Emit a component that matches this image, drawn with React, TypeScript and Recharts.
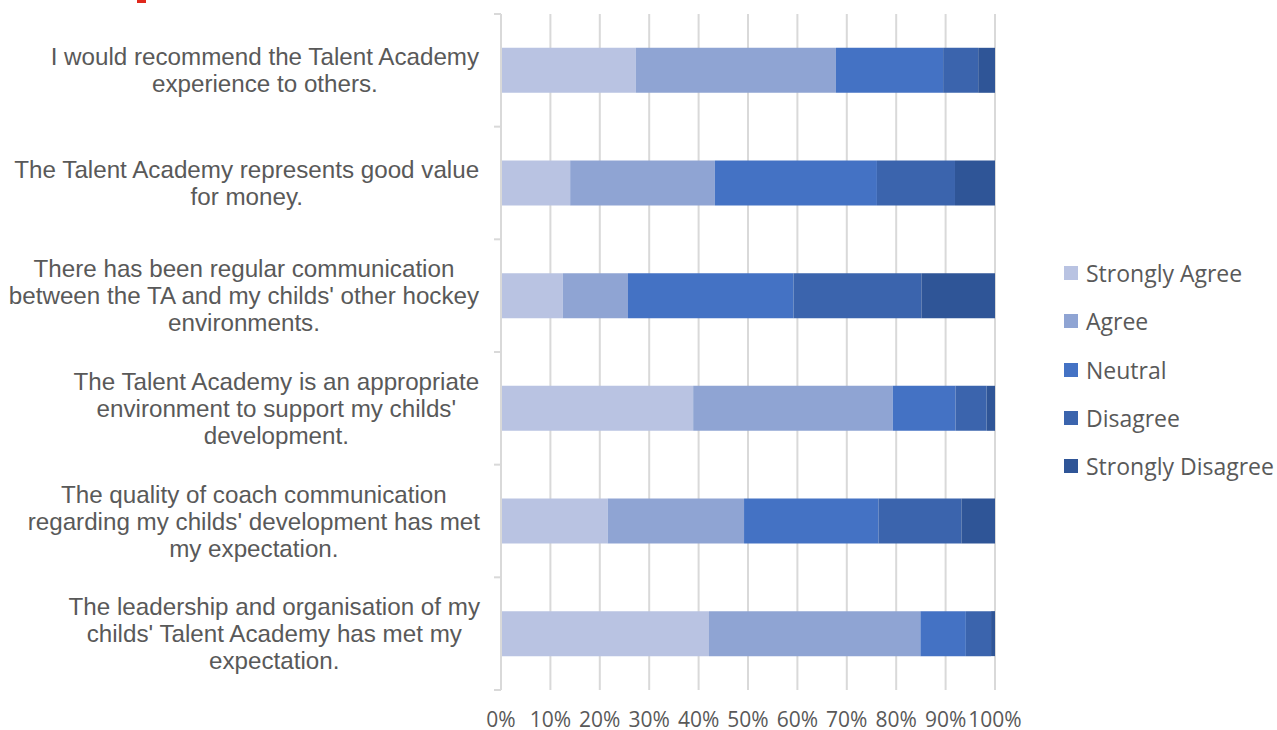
import { BarChart, Bar, XAxis, YAxis, CartesianGrid } from 'recharts';

// survey statements, already split the way the labels wrap
const categoryLines: string[][] = [
    ['I would recommend the Talent Academy', 'experience to others.'],
    ['The Talent Academy represents good value', 'for money.'],
    ['There has been regular communication', "between the TA and my childs' other hockey", 'environments.'],
    ['The Talent Academy is an appropriate', "environment to support my childs'", 'development.'],
    ['The quality of coach communication', "regarding my childs' development has met", 'my expectation.'],
    ['The leadership and organisation of my', "childs' Talent Academy has met my", 'expectation.'],
];
const categories = categoryLines.map((lines) => lines.join(' '));

// share of answers (%) per statement
const stronglyAgree = [27.3, 14.0, 12.5, 38.9, 21.6, 42.1];
const agree = [40.5, 29.3, 13.2, 40.4, 27.6, 42.8];
const neutral = [21.7, 32.8, 33.5, 12.7, 27.2, 9.2];
const disagree = [7.1, 15.8, 25.9, 6.3, 16.8, 5.1];
const stronglyDisagree = [3.4, 8.1, 14.9, 1.7, 6.8, 0.8];

const xTicks = [0, 0.1, 0.2, 0.3, 0.4, 0.5, 0.6, 0.7, 0.8, 0.9, 1];

const series = [
    { key: 'sa', label: 'Strongly Agree', color: '#B9C3E2', values: stronglyAgree },
    { key: 'a', label: 'Agree', color: '#8FA4D3', values: agree },
    { key: 'n', label: 'Neutral', color: '#4472C4', values: neutral },
    { key: 'd', label: 'Disagree', color: '#3B64AD', values: disagree },
    { key: 'sd', label: 'Strongly Disagree', color: '#2F5597', values: stronglyDisagree },
];

const data = categories.map((name, i) => {
    const row: { [key: string]: string | number } = { name };
    series.forEach((s) => { row[s.key] = s.values[i]; });
    return row;
});

const W = 1277;
const H = 730;
const PLOT_LEFT = 501;
const PLOT_RIGHT = 995;
const PLOT_TOP = 14;
const PLOT_BOTTOM = 690;
const LABEL_RIGHT = 480;
const LABEL_FONT = 24.2;
const LINE_H = 27;
const GRID = '#d9d9d9';
const TEXT = '#595959';

let ctx: CanvasRenderingContext2D | null = null;
function measure(text: string) {
    if (!ctx) {
        ctx = document.createElement('canvas').getContext('2d');
        if (ctx) ctx.font = `${LABEL_FONT}px "Liberation Sans", Arial, sans-serif`;
    }
    return ctx ? ctx.measureText(text).width : text.length * 11;
}

const band = (PLOT_BOTTOM - PLOT_TOP) / categories.length;

const CategoryTick = (props: any) => {
    const { y, payload } = props;
    const idx = categories.indexOf(payload.value);
    const lines = categoryLines[idx] || [String(payload.value)];
    const maxW = Math.max(...lines.map(measure));
    const cx = LABEL_RIGHT - maxW / 2;
    const first = y - ((lines.length - 1) * LINE_H) / 2 + 8.6;
    return (
        <g>
            <line x1={PLOT_LEFT - 7} x2={PLOT_LEFT} y1={y - band / 2} y2={y - band / 2} stroke={GRID} strokeWidth={2} />
            {idx === categories.length - 1 && (
                <line x1={PLOT_LEFT - 7} x2={PLOT_LEFT} y1={y + band / 2} y2={y + band / 2} stroke={GRID} strokeWidth={2} />
            )}
            <text
                x={cx}
                y={first}
                textAnchor="middle"
                fill={TEXT}
                style={{ fontFamily: '"Liberation Sans", Arial, sans-serif', fontSize: LABEL_FONT }}
            >
                {lines.map((l, i) => (
                    <tspan key={i} x={cx} dy={i === 0 ? 0 : LINE_H}>{l}</tspan>
                ))}
            </text>
        </g>
    );
};

export default function App() {
    return (
        <div style={{ position: 'absolute', left: 0, top: 0, width: W, height: H, background: '#fff', overflow: 'hidden' }}>
            <div style={{ position: 'absolute', left: 137, top: 0, width: 9, height: 3, background: '#e0281c' }} />
            <BarChart
                width={W}
                height={H}
                data={data}
                layout="vertical"
                stackOffset="expand"
                barCategoryGap="30%"
                margin={{ top: PLOT_TOP, right: W - PLOT_RIGHT, bottom: 0, left: 0 }}
            >
                <CartesianGrid horizontal={false} stroke={GRID} strokeWidth={2} />
                <XAxis
                    type="number"
                    domain={[0, 1]}
                    ticks={xTicks}
                    interval={0}
                    height={H - PLOT_BOTTOM}
                    axisLine={false}
                    tickLine={false}
                    tickSize={0}
                    tickMargin={22}
                    tickFormatter={(v: number) => `${Math.round(v * 100)}%`}
                    tick={{ fill: TEXT, fontSize: 21, fontFamily: '"Open Sans", sans-serif' }}
                />
                <YAxis
                    type="category"
                    dataKey="name"
                    width={PLOT_LEFT}
                    interval={0}
                    axisLine={{ stroke: GRID, strokeWidth: 2 }}
                    tickLine={false}
                    tick={<CategoryTick />}
                />
                {series.map((s) => (
                    <Bar key={s.key} dataKey={s.key} name={s.label} stackId="a" fill={s.color} isAnimationActive={false} />
                ))}
            </BarChart>
            <div
                style={{
                    position: 'absolute',
                    left: 1064,
                    top: 249,
                    fontFamily: '"Open Sans", sans-serif',
                    fontSize: 23,
                    color: TEXT,
                }}
            >
                {series.map((s) => (
                    <div key={s.key} style={{ display: 'flex', alignItems: 'center', height: 48.3, whiteSpace: 'nowrap' }}>
                        <span style={{ width: 14, height: 14, background: s.color, display: 'inline-block', marginRight: 8 }} />
                        <span>{s.label}</span>
                    </div>
                ))}
            </div>
        </div>
    );
}
